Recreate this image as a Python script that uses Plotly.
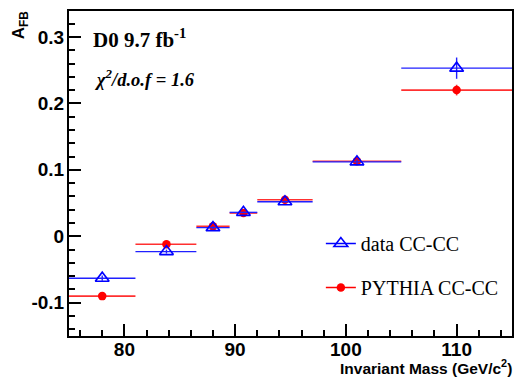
import plotly.graph_objects as go

# Bin edges and centres (GeV/c^2)
bin_lo = [75.0, 81.0, 86.5, 89.5, 92.0, 97.0, 105.0]
bin_hi = [81.0, 86.5, 89.5, 92.0, 97.0, 105.0, 115.0]
mass = [78.0, 83.8, 88.0, 90.75, 94.5, 101.0, 110.0]

# A_FB values
data_afb = [-0.063, -0.023, 0.013, 0.036, 0.052, 0.112, 0.253]
data_err = [0.004, 0.003, 0.002, 0.001, 0.002, 0.004, 0.016]
pythia_afb = [-0.090, -0.012, 0.015, 0.035, 0.055, 0.113, 0.220]
pythia_err = [0.002, 0.002, 0.001, 0.001, 0.001, 0.002, 0.008]

x_tick_vals = [80, 90, 100, 110]
y_tick_vals = [-0.1, 0, 0.1, 0.2, 0.3]
y_tick_text = ["-0.1", "0", "0.1", "0.2", "0.3"]

W, H = 520, 383
ML, MR, MT, MB = 69, 6, 11, 47

xm = [m - lo for m, lo in zip(mass, bin_lo)]
xp = [hi - m for m, hi in zip(mass, bin_hi)]

fig = go.Figure()

fig.add_trace(go.Scatter(
    x=mass, y=pythia_afb, mode="markers", showlegend=False,
    marker=dict(symbol="circle", size=8.5, color="red"),
    error_x=dict(type="data", symmetric=False, array=xp, arrayminus=xm,
                 color="#ff3030", thickness=1.6, width=0),
    error_y=dict(type="data", array=pythia_err, color="#ff3030",
                 thickness=1.6, width=0),
))
fig.add_trace(go.Scatter(
    x=mass, y=data_afb, mode="markers", showlegend=False,
    marker=dict(symbol="triangle-up-open", size=12, color="blue",
                line=dict(width=1.6, color="blue")),
    error_x=dict(type="data", symmetric=False, array=xp, arrayminus=xm,
                 color="#2020ff", thickness=1.4, width=0),
    error_y=dict(type="data", array=data_err, color="#2020ff",
                 thickness=1.4, width=0),
))

# legend entries
fig.add_trace(go.Scatter(
    x=[None], y=[None], mode="lines+markers", name="data CC-CC",
    legendgroup="a",
    line=dict(color="blue", width=1.5),
    marker=dict(symbol="triangle-up-open", size=12, color="blue",
                line=dict(width=1.6, color="blue")),
))
fig.add_trace(go.Scatter(
    x=[None], y=[None], mode="lines+markers", name="PYTHIA CC-CC",
    legendgroup="b",
    line=dict(color="red", width=1.5),
    marker=dict(symbol="circle", size=8.5, color="red"),
))

fig.update_xaxes(
    range=[75, 115], tickvals=x_tick_vals, ticktext=[str(v) for v in x_tick_vals],
    showline=True, linecolor="black", linewidth=2, mirror=True,
    ticks="inside", ticklen=12, tickwidth=2, tickcolor="black",
    minor=dict(dtick=2, tick0=0, ticks="inside", ticklen=6, tickwidth=1.5,
               tickcolor="black"),
    showgrid=False, zeroline=False, ticklabelstandoff=-5,
    tickfont=dict(family="Liberation Sans", size=19, color="black", weight="bold"),
)
fig.update_yaxes(
    range=[-0.15, 0.339], tickvals=y_tick_vals, ticktext=y_tick_text,
    showline=True, linecolor="black", linewidth=2, mirror=True,
    ticks="inside", ticklen=12, tickwidth=2, tickcolor="black",
    minor=dict(dtick=0.02, tick0=0, ticks="inside", ticklen=6, tickwidth=1.5,
               tickcolor="black"),
    showgrid=False, zeroline=False, ticklabelstandoff=-1,
    tickfont=dict(family="Liberation Sans", size=19, color="black", weight="bold"),
)

pw = W - ML - MR
ph = H - MT - MB

def px(xp_):
    return (xp_ - ML) / pw

def py(yp_):
    return (H - MB - yp_) / ph

annotations = [
    dict(text="<b>D0 9.7 fb<sup>-1</sup></b>", x=px(91), y=py(39),
         xanchor="left", yanchor="middle",
         font=dict(family="Liberation Serif", size=21, color="black")),
    dict(text="<b><i>χ<sup>2</sup>/d.o.f = 1.6</i></b>", x=px(92), y=py(78),
         xanchor="left", yanchor="middle",
         font=dict(family="Liberation Serif", size=18.5, color="black")),
    dict(text="<b>A<sub>FB</sub></b>", x=px(20), y=py(25), textangle=-90,
         xanchor="center", yanchor="middle",
         font=dict(family="Liberation Sans", size=17, color="black")),
    dict(text="<b>Invariant Mass (GeV/c<sup>2</sup>)</b>", x=px(516), y=py(367),
         xanchor="right", yanchor="middle",
         font=dict(family="Liberation Sans", size=15.5, color="black")),
]
for a in annotations:
    a.update(xref="paper", yref="paper", showarrow=False)

fig.update_layout(
    width=W, height=H,
    margin=dict(l=ML, r=MR, t=MT, b=MB),
    paper_bgcolor="white", plot_bgcolor="white",
    annotations=annotations,
    legend=dict(x=px(322), y=py(224), xanchor="left", yanchor="top",
                bgcolor="rgba(0,0,0,0)", tracegroupgap=15,
                font=dict(family="Liberation Serif", size=20, color="black")),
)

fig.write_html("out.html", config={"displayModeBar": False},
               post_script="document.body.style.margin='0';document.body.style.overflow='hidden';")
